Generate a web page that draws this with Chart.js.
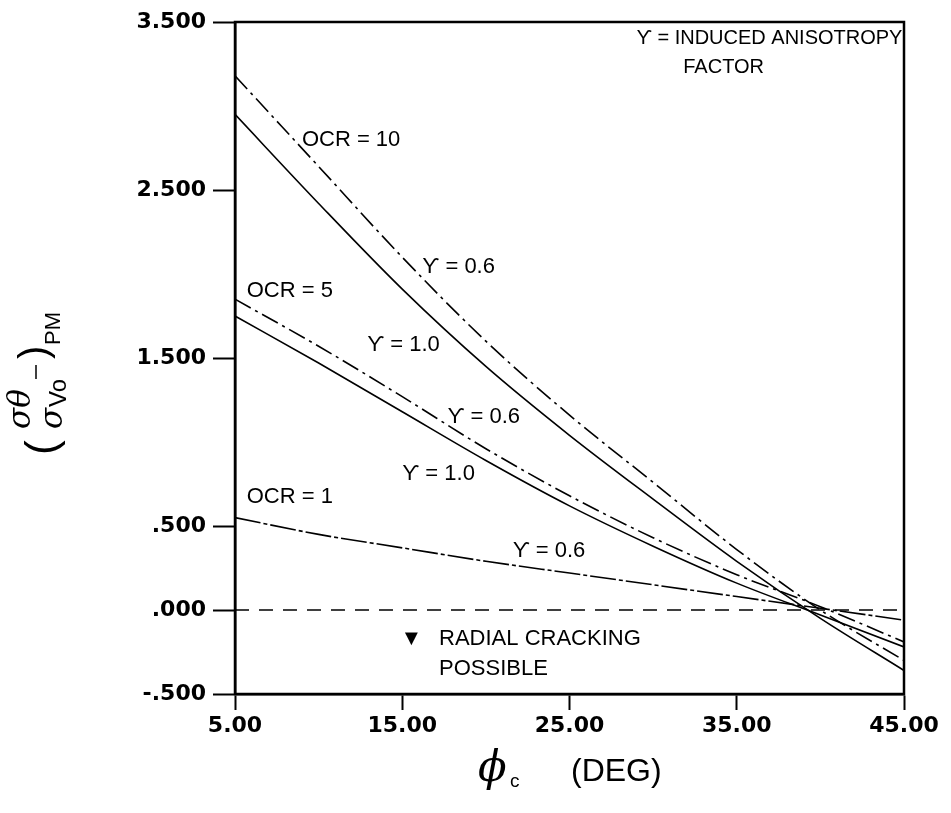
<!DOCTYPE html>
<html>
<head>
<meta charset="utf-8">
<script src="https://cdn.jsdelivr.net/npm/chart.js@4.4.1/dist/chart.umd.min.js"></script>
<style>
  html, body { margin: 0; padding: 0; background: #fff; }
  #wrap { width: 951px; height: 813px; }
</style>
</head>
<body>
<div id="wrap"><canvas id="chart" width="951" height="813"></canvas></div>
<script>
// friction angle (deg)
const phi = [5, 10, 15, 20, 25, 30, 35, 40, 45];
// (sigma_theta / sigma_vo)PM
const ocr10g06 = [3.18, 2.64, 2.10, 1.60, 1.16, 0.76, 0.36, 0.00, -0.30];
const ocr10g10 = [2.95, 2.42, 1.91, 1.45, 1.04, 0.66, 0.29, -0.05, -0.36];
const ocr5g06 = [1.85, 1.57, 1.27, 0.96, 0.68, 0.43, 0.21, 0.02, -0.19];
const ocr5g10 = [1.75, 1.47, 1.18, 0.89, 0.62, 0.38, 0.16, -0.03, -0.22];
const ocr1g06 = [0.55, 0.45, 0.37, 0.29, 0.22, 0.15, 0.08, 0.01, -0.06];
const zeroLine = [0, 0];
const zeroPhi = [5, 45];

const xTickValues = [5, 15, 25, 35, 45];
const xTickLabels = ['5.00', '15.00', '25.00', '35.00', '45.00'];
const yTickValues = [-0.5, 0, 0.5, 1.5, 2.5, 3.5];
const yTickLabels = ['-.500', '.000', '.500', '1.500', '2.500', '3.500'];

// curve labels (text, x, y in data units)
const curveLabels = [
  ['OCR = 10', 9.0, 2.80],
  ['\u03D2 = 0.6', 16.2, 2.04],
  ['OCR = 5', 5.7, 1.90],
  ['\u03D2 = 1.0', 12.9, 1.58],
  ['\u03D2 = 0.6', 17.7, 1.15],
  ['\u03D2 = 1.0', 15.0, 0.81],
  ['OCR = 1', 5.7, 0.675],
  ['\u03D2 = 0.6', 21.6, 0.35],
  ['\u25BC', 14.9, -0.17],
  ['RADIAL CRACKING', 17.2, -0.17],
  ['POSSIBLE', 17.2, -0.35]
];
const noteLabels = [
  ['\u03D2 = INDUCED ANISOTROPY', 29.0, 3.40],
  ['FACTOR', 31.8, 3.23]
];

function pts(xs, ys) {
  return xs.map((x, i) => ({ x: x, y: ys[i] }));
}

function line(data, dash) {
  return {
    data: data,
    borderColor: '#000',
    borderWidth: 1.6,
    borderDash: dash,
    pointRadius: 0,
    fill: false,
    cubicInterpolationMode: 'monotone'
  };
}

const framePlugin = {
  id: 'frame',
  afterDraw(chart) {
    const ctx = chart.ctx;
    const a = chart.chartArea;
    const xs = chart.scales.x, ys = chart.scales.y;
    ctx.save();
    ctx.strokeStyle = '#000';
    ctx.lineWidth = 2.5;
    ctx.strokeRect(a.left, a.top, a.right - a.left, a.bottom - a.top);

    // curve labels
    ctx.fillStyle = '#000';
    ctx.textBaseline = 'middle';
    ctx.textAlign = 'left';
    ctx.font = '22px "Liberation Sans", "DejaVu Sans", sans-serif';
    curveLabels.forEach(l => {
      ctx.fillText(l[0], xs.getPixelForValue(l[1]), ys.getPixelForValue(l[2]));
    });
    ctx.font = '20px "Liberation Sans", "DejaVu Sans", sans-serif';
    noteLabels.forEach(l => {
      ctx.fillText(l[0], xs.getPixelForValue(l[1]), ys.getPixelForValue(l[2]));
    });

    // x axis title
    ctx.textBaseline = 'alphabetic';
    ctx.font = 'italic 42px "DejaVu Serif", serif';
    ctx.fillText('\u03D5', 478, 781);
    ctx.font = '19px "Liberation Sans", sans-serif';
    ctx.fillText('c', 510, 787);
    ctx.font = '32px "Liberation Sans", sans-serif';
    ctx.fillText('(DEG)', 571, 781);

    // y axis title, rotated
    ctx.translate(46, 377);
    ctx.rotate(-Math.PI / 2);
    ctx.textBaseline = 'middle';
    ctx.font = '44px "Liberation Sans", sans-serif';
    ctx.fillText('(', -78, -2);
    ctx.font = 'italic 31px "DejaVu Serif", serif';
    ctx.fillText('\u03C3\u03B8', -52, -24);
    ctx.fillText('\u03C3', -52, 8);
    ctx.font = '24px "Liberation Sans", sans-serif';
    ctx.fillText('Vo', -30, 13);
    ctx.lineWidth = 1.5;
    ctx.beginPath();
    ctx.moveTo(-2, -10);
    ctx.lineTo(12, -10);
    ctx.stroke();
    ctx.font = '40px "Liberation Sans", sans-serif';
    ctx.fillText(')', 18, -10);
    ctx.font = '22px "Liberation Sans", sans-serif';
    ctx.fillText('PM', 32, 8);
    ctx.restore();
  }
};

const ctx = document.getElementById('chart').getContext('2d');
new Chart(ctx, {
  type: 'line',
  data: {
    datasets: [
      line(pts(phi, ocr10g06), [18, 5, 3, 5]),
      line(pts(phi, ocr10g10), []),
      line(pts(phi, ocr5g06), [18, 5, 3, 5]),
      line(pts(phi, ocr5g10), []),
      line(pts(phi, ocr1g06), [26, 3, 4, 3]),
      line(pts(zeroPhi, zeroLine), [14, 10])
    ]
  },
  options: {
    responsive: false,
    animation: false,
    layout: { padding: { top: 22, right: 47, left: 0, bottom: 0 } },
    plugins: { legend: { display: false }, tooltip: { enabled: false } },
    scales: {
      x: {
        type: 'linear',
        min: 5,
        max: 45,
        afterBuildTicks: s => { s.ticks = xTickValues.map(v => ({ value: v })); },
        afterFit: s => { s.height = 119; },
        grid: { drawOnChartArea: false, drawTicks: true, tickLength: 16, tickColor: '#000', tickWidth: 2 },
        border: { color: '#000', width: 2.5 },
        ticks: {
          autoSkip: false,
          maxRotation: 0,
          padding: 3,
          color: '#000',
          font: { family: '"DejaVu Sans", sans-serif', size: 22, weight: 'bold' },
          callback: v => xTickLabels[xTickValues.indexOf(v)]
        }
      },
      y: {
        type: 'linear',
        min: -0.5,
        max: 3.5,
        afterBuildTicks: s => { s.ticks = yTickValues.map(v => ({ value: v })); },
        afterFit: s => { s.width = 235; },
        grid: { drawOnChartArea: false, drawTicks: true, tickLength: 22, tickColor: '#000', tickWidth: 2 },
        border: { color: '#000', width: 2.5 },
        ticks: {
          autoSkip: false,
          padding: 7,
          color: '#000',
          font: { family: '"DejaVu Sans", sans-serif', size: 22, weight: 'bold' },
          callback: v => yTickLabels[yTickValues.indexOf(v)]
        }
      }
    }
  },
  plugins: [framePlugin]
});
</script>
</body>
</html>
